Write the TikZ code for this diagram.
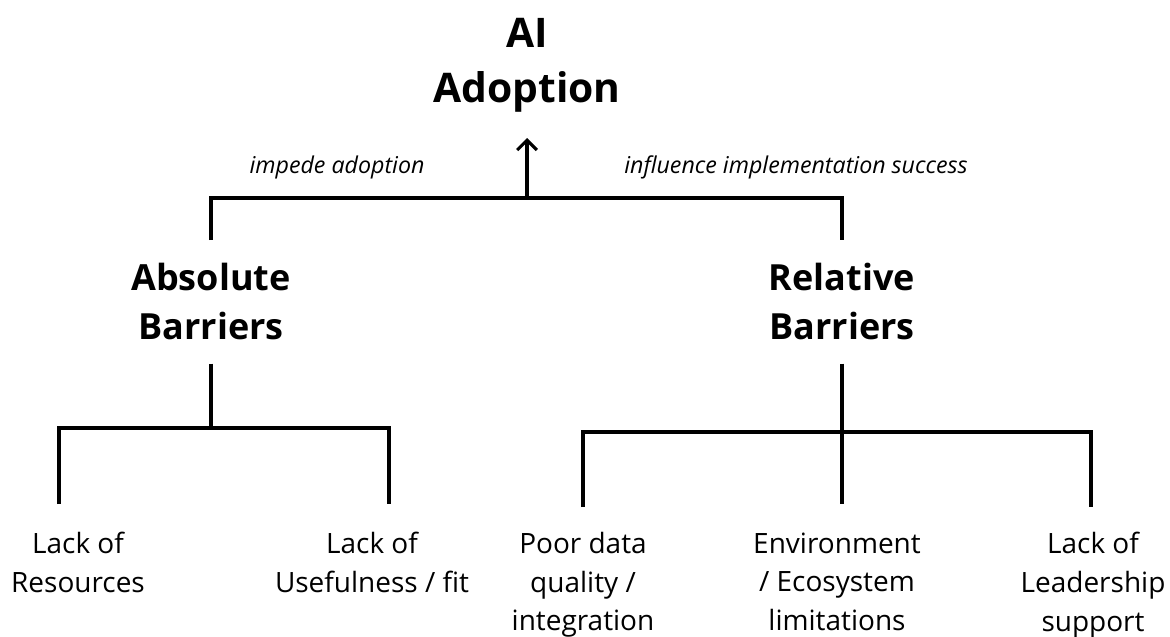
\documentclass[tikz,border=0pt]{standalone}
\usepackage{fontspec}
\setmainfont{Open Sans}
\usetikzlibrary{arrows.meta,positioning}

\begin{document}
\begin{tikzpicture}[
    x=0.025cm, y=-0.025cm,
    line width=2.2pt,
    barb/.style={-{Straight Barb[length=7pt,width=14pt,line width=2.2pt]}},
    root/.style={
		font=\fontsize{29}{38.5}\selectfont\bfseries,
		align=center,
		inner xsep=0pt,
		inner ysep=17.5pt
	},
	branch/.style={
		font=\fontsize{25.6}{34.9}\selectfont\bfseries,
		align=center,
		inner xsep=0pt,
		inner ysep=15.6pt
	},
	leaf/.style={
		font=\fontsize{19.9}{27.4}\selectfont,
		align=center,
		inner xsep=0pt,
		inner ysep=18.5pt
	},
	tag/.style={
		font=\fontsize{16.5}{20}\selectfont\itshape,
		inner sep=0pt,
		anchor=base
	}
  ]
  \useasboundingbox (0,0) rectangle (1170,637);

  % the goal and the two kinds of barriers
  \node [root, anchor=south] (adoption) at (527,138) {AI\\Adoption};
  \node [branch, anchor=north] (absolute) at (211,240) {Absolute\\Barriers};
  \node [branch, anchor=north] (relative) at (842,240) {Relative\\Barriers};

  \node [tag] (impede) at (337,173) {impede adoption};
  \node [tag] (influence) at (796,173) {influence implementation success};

  % the single barriers
  \node [leaf, anchor=north] (resources) at (78,505) {Lack of\\Resources};
  \node [leaf, anchor=north] (usefulness) at (372,505) {Lack of\\Usefulness / fit};
  \node [leaf, anchor=north] (data) at (583,505) {Poor data\\quality /\\integration};
  \node [leaf, anchor=north] (ecosystem) at (837,505) {Environment\\/ Ecosystem\\limitations};
  \node [leaf, anchor=north] (leadership) at (1093,505) {Lack of\\Leadership\\support};

  % junctions of the tree
  \coordinate (hub) at (527,198);
  \coordinate (absjoin) at (211,428);
  \coordinate (reljoin) at (842,432);
  \coordinate (drop1) at (59,504);
  \coordinate (drop2) at (389,504);
  \coordinate (drop3) at (583,507);
  \coordinate (drop4) at (842,504);
  \coordinate (drop5) at (1091,507);

  \draw (absolute.north) |- (hub) -| (relative.north);
  \draw [barb] (hub) -- (adoption.south);

  \draw (absolute.south) -- (absjoin);
  \draw (drop1) |- (absjoin) -| (drop2);

  \draw (relative.south) -- (drop4);
  \draw (drop3) |- (reljoin) -| (drop5);

\end{tikzpicture}
\end{document}
